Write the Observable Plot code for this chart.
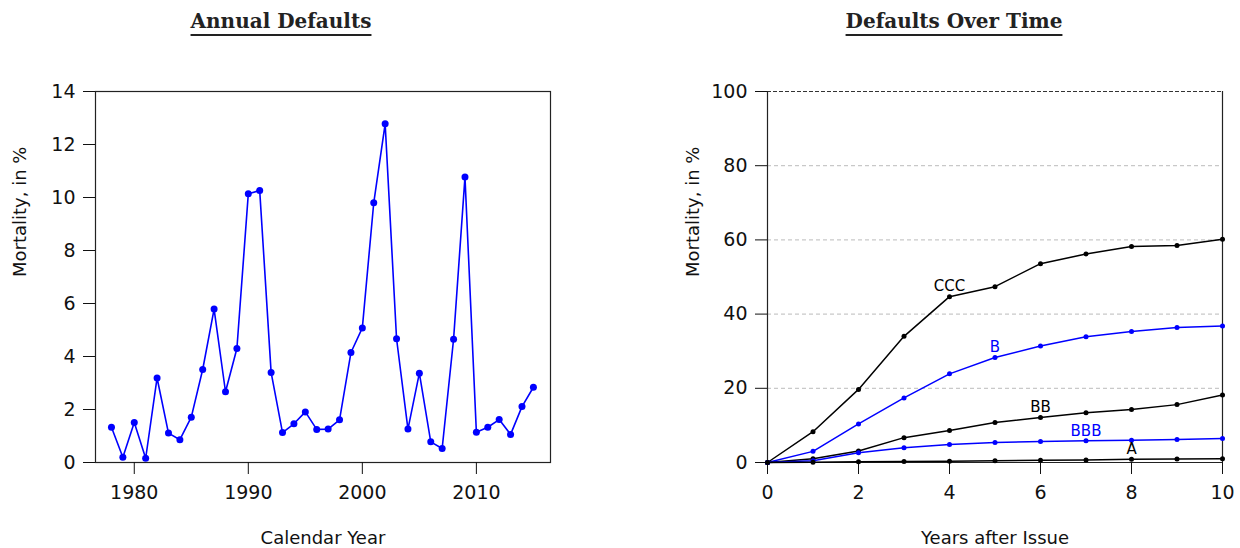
<!DOCTYPE html>
<html><head><meta charset="utf-8">
<script src="https://cdn.jsdelivr.net/npm/d3@7"></script>
<script src="https://cdn.jsdelivr.net/npm/@observablehq/plot@0.6"></script>
<style>
body{margin:0;background:#fff;}
#wrap{position:relative;width:1240px;height:548px;}
.title{position:absolute;z-index:5;top:9px;font-family:"DejaVu Serif",serif;font-weight:bold;font-size:20px;color:#222;text-decoration:underline;text-underline-offset:6px;text-decoration-thickness:2px;transform:translateX(-50%);white-space:nowrap;}
#left{position:absolute;left:0;top:0;z-index:1;}
#right{position:absolute;left:620px;top:0;z-index:1;}
</style></head>
<body><div id="wrap">
<div id="left"></div><div id="right"></div>
<div class="title" style="left:281px">Annual Defaults</div>
<div class="title" style="left:954px">Defaults Over Time</div>
</div>
<script>
const years = d3.range(1978, 2016);
const annualDefaults = [1.33,0.20,1.51,0.16,3.19,1.11,0.86,1.71,3.51,5.79,2.67,4.30,10.14,10.26,3.40,1.13,1.46,1.91,1.25,1.26,1.61,4.15,5.08,9.80,12.78,4.67,1.26,3.37,0.78,0.53,4.65,10.77,1.14,1.33,1.62,1.06,2.11,2.84];
const yearTicks = [1980,1990,2000,2010];

const yearsAfter = [0,1,2,3,4,5,6,7,8,9,10];
const ratings = ["CCC","B","BB","BBB","A"];
const ratingColors = ["black","blue","black","blue","black"];
const labelAt = [4,5,6,7,8];
const cumCCC = [0,8.3,19.7,34.0,44.7,47.4,53.6,56.2,58.2,58.5,60.2];
const cumB   = [0,3.0,10.4,17.4,23.9,28.3,31.4,33.9,35.3,36.4,36.8];
const cumBB  = [0,1.0,3.1,6.7,8.6,10.8,12.1,13.4,14.3,15.6,18.2];
const cumBBB = [0,0.5,2.6,4.0,4.85,5.4,5.65,5.85,6.0,6.2,6.5];
const cumA   = [0,0.1,0.2,0.3,0.35,0.5,0.6,0.65,0.9,0.95,1.0];

const font = {fontFamily:"DejaVu Sans, sans-serif", fontSize:"18px", color:"#111", background:"white"};

// Left chart
const annual = years.map((y,i)=>({year:y, v:annualDefaults[i]}));
const left = Plot.plot({
  width:620, height:548,
  marginLeft:95, marginRight:70, marginTop:91, marginBottom:86,
  style:font,
  x:{domain:[1976.6,2016.5]},
  y:{domain:[0,14]},
  marks:[
    Plot.frame({stroke:"#222", strokeWidth:1.2}),
    Plot.axisY({ticks:d3.range(0,15,2), tickSize:12, tickPadding:8, label:null, fontSize:19}),
    Plot.axisX({ticks:yearTicks, tickFormat:d=>String(d), tickSize:12, tickPadding:11, label:null, fontSize:19}),
    Plot.line(annual,{x:"year",y:"v",stroke:"blue",strokeWidth:1.6}),
    Plot.dot(annual,{x:"year",y:"v",fill:"blue",r:3.5}),
    Plot.text(["Calendar Year"],{frameAnchor:"bottom",dy:81,fontSize:18}),
    Plot.text(["Mortality, in %"],{frameAnchor:"left",dx:-75,rotate:-90,fontSize:18})
  ]
});
document.getElementById("left").append(left);

// Right chart
const series = [cumCCC,cumB,cumBB,cumBBB,cumA];
const cum = [];
ratings.forEach((r,k)=>yearsAfter.forEach((t,i)=>cum.push({rating:r, t, v:series[k][i], color:ratingColors[k]})));
const labels = ratings.map((r,k)=>({rating:r, t:labelAt[k], v:series[k][labelAt[k]], color:ratingColors[k]}));
const right = Plot.plot({
  width:620, height:548,
  marginLeft:147, marginRight:18, marginTop:91, marginBottom:86,
  style:font,
  x:{domain:[0,10]},
  y:{domain:[0,100]},
  marks:[
    Plot.ruleY([20,40,60,80],{stroke:"#aaa",strokeDasharray:"4,3",strokeWidth:0.8}),
    Plot.ruleY([100],{stroke:"#333",strokeDasharray:"4,2",strokeWidth:1}),
    Plot.ruleX([0,10],{stroke:"#222",strokeWidth:1.2}),
    Plot.ruleY([0],{stroke:"#222",strokeWidth:1.2}),
    Plot.axisY({ticks:[0,20,40,60,80,100], tickSize:12, tickPadding:8, label:null, fontSize:19}),
    Plot.axisX({ticks:[0,2,4,6,8,10], tickSize:12, tickPadding:11, label:null, fontSize:19}),
    Plot.line(cum,{x:"t",y:"v",z:"rating",stroke:"color",strokeWidth:1.5}),
    Plot.dot(cum,{x:"t",y:"v",fill:"color",r:2.5}),
    Plot.text(labels,{x:"t",y:"v",text:"rating",fill:"color",dy:-10,fontSize:15}),
    Plot.text(["Years after Issue"],{frameAnchor:"bottom",dy:81,fontSize:18}),
    Plot.text(["Mortality, in %"],{frameAnchor:"left",dx:-74,rotate:-90,fontSize:18})
  ]
});
document.getElementById("right").append(right);
</script>
</body></html>
